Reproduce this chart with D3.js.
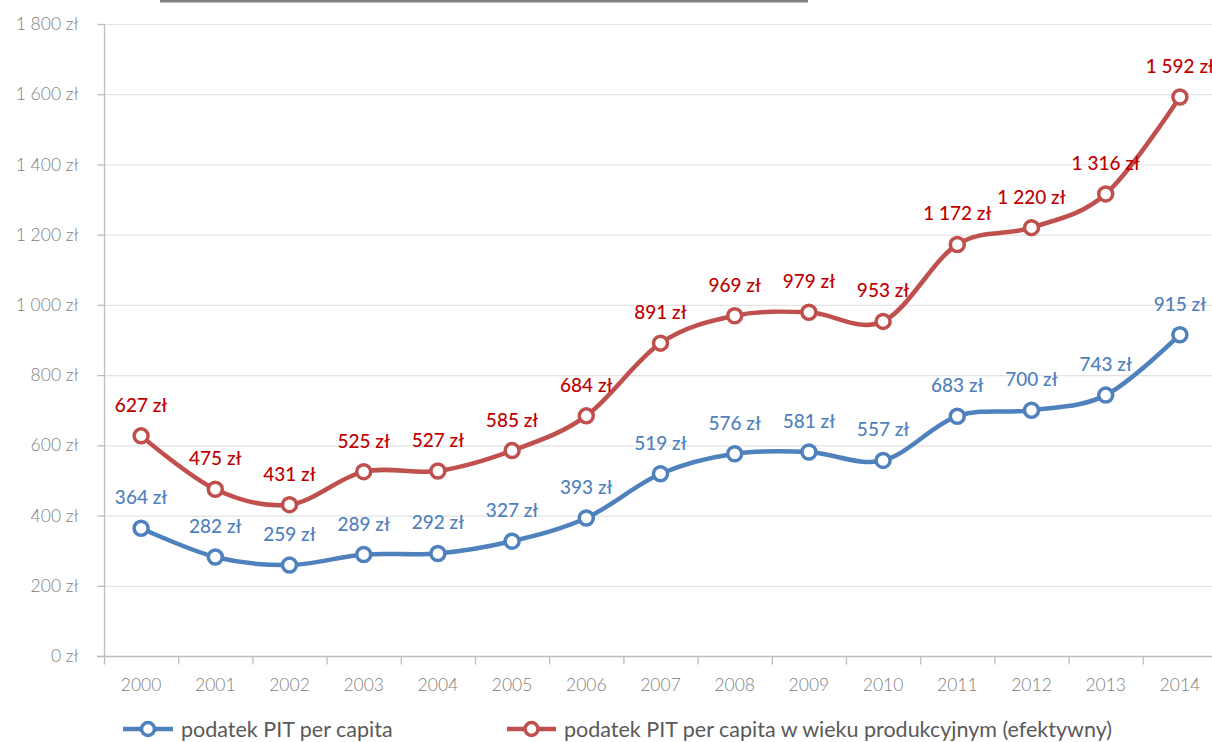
<!DOCTYPE html>
<html>
<head>
<meta charset="utf-8">
<script src="https://cdn.jsdelivr.net/npm/d3@7"></script>
<style>
  html, body { margin: 0; padding: 0; background: #fff; }
  svg { display: block; }
</style>
</head>
<body>
<svg id="chart" width="1212" height="742"></svg>
<script>
// Years on the category axis
const years = ["2000","2001","2002","2003","2004","2005","2006","2007","2008","2009","2010","2011","2012","2013","2014"];
// PIT per capita (zł)
const pitPerCapita = [364, 282, 259, 289, 292, 327, 393, 519, 576, 581, 557, 683, 700, 743, 915];
// PIT per capita of working-age population (effective, zł)
const pitWorkingAge = [627, 475, 431, 525, 527, 585, 684, 891, 969, 979, 953, 1172, 1220, 1316, 1592];
// Value axis ticks
const yTicks = [0, 200, 400, 600, 800, 1000, 1200, 1400, 1600, 1800];
const seriesNames = ["podatek PIT per capita", "podatek PIT per capita w wieku produkcyjnym (efektywny)"];

const FONT = "Lato, 'Open Sans', 'DejaVu Sans', sans-serif";
const svg = d3.select("#chart");

const plot = { left: 104, right: 1217, top: 24, bottom: 656 };

const x = d3.scaleBand().domain(years).range([plot.left, plot.right]).padding(0);
const y = d3.scaleLinear().domain([0, 1800]).range([plot.bottom, plot.top]);

const fmt = v => d3.format(",")(v).replace(/,/g, " ") + " zł";

// Clipped remnant of the heading rule above the plot
svg.append("rect").attr("x", 160).attr("y", 0).attr("width", 648).attr("height", 2.5).attr("fill", "#808080");

// Horizontal gridlines
svg.append("g").selectAll("line").data(yTicks.filter(d => d > 0)).join("line")
  .attr("x1", plot.left).attr("x2", 1212)
  .attr("y1", d => y(d) + 0.5).attr("y2", d => y(d) + 0.5)
  .attr("stroke", "#e3e3e3").attr("stroke-width", 1.2);

// Value axis
const yAxis = svg.append("g").attr("transform", `translate(${plot.left + 0.5},0)`)
  .call(d3.axisLeft(y).tickValues(yTicks).tickSize(7).tickPadding(19).tickFormat(fmt));
yAxis.select(".domain").attr("stroke", "#bdbdbd").attr("stroke-width", 1.3)
  .attr("d", `M0,${plot.top}V${plot.bottom}`);
yAxis.selectAll(".tick line").attr("stroke", "#bdbdbd").attr("stroke-width", 1.3);
yAxis.selectAll(".tick text").attr("fill", "#808080").attr("font-family", FONT)
  .attr("font-weight", 300).attr("font-size", 17.5);

// Category axis
const xAxis = svg.append("g").attr("transform", `translate(0,${plot.bottom + 0.5})`);
xAxis.append("line").attr("x1", plot.left - 7).attr("x2", 1212).attr("y1", 0).attr("y2", 0)
  .attr("stroke", "#bdbdbd").attr("stroke-width", 1.3);
xAxis.selectAll("line.tk").data(years).join("line").attr("class", "tk")
  .attr("x1", d => x(d) + 0.5).attr("x2", d => x(d) + 0.5).attr("y1", 0).attr("y2", 8)
  .attr("stroke", "#bdbdbd").attr("stroke-width", 1.3);
xAxis.selectAll("text").data(years).join("text")
  .attr("x", d => x(d) + x.bandwidth() / 2).attr("y", 34)
  .attr("text-anchor", "middle").attr("fill", "#808080")
  .attr("font-family", FONT).attr("font-weight", 300).attr("font-size", 17.5)
  .text(d => d);

const series = [
  { name: seriesNames[0], values: pitPerCapita, color: "#4f81bd", label: "#4f81bd" },
  { name: seriesNames[1], values: pitWorkingAge, color: "#c0504d", label: "#c00000" }
];

const line = d3.line()
  .x((d, i) => x(years[i]) + x.bandwidth() / 2)
  .y(d => y(d))
  .curve(d3.curveCardinal.tension(0));

series.forEach(s => {
  const g = svg.append("g");
  g.append("path").datum(s.values).attr("d", line)
    .attr("fill", "none").attr("stroke", s.color).attr("stroke-width", 4.5)
    .attr("stroke-linejoin", "round").attr("stroke-linecap", "round");
  g.selectAll("circle").data(s.values).join("circle")
    .attr("cx", (d, i) => x(years[i]) + x.bandwidth() / 2)
    .attr("cy", d => y(d))
    .attr("r", 7).attr("fill", "#fff").attr("stroke", s.color).attr("stroke-width", 3.5);
  g.selectAll("text").data(s.values).join("text")
    .attr("x", (d, i) => x(years[i]) + x.bandwidth() / 2)
    .attr("y", d => y(d) - 24)
    .attr("text-anchor", "middle").attr("fill", s.label)
    .attr("font-family", FONT).attr("font-weight", 500).attr("font-size", 19)
    .text(d => fmt(d));
});

// Legend
const legendItems = [
  { s: series[0], x0: 123, x1: 173, tx: 181 },
  { s: series[1], x0: 507, x1: 556, tx: 564 }
];
const lg = svg.append("g");
legendItems.forEach(it => {
  const cy = 729;
  lg.append("line").attr("x1", it.x0).attr("x2", it.x1).attr("y1", cy).attr("y2", cy)
    .attr("stroke", it.s.color).attr("stroke-width", 4.5);
  lg.append("circle").attr("cx", (it.x0 + it.x1) / 2).attr("cy", cy).attr("r", 6.5)
    .attr("fill", "#fff").attr("stroke", it.s.color).attr("stroke-width", 3.5);
  lg.append("text").attr("x", it.tx).attr("y", cy + 7.5)
    .attr("fill", "#595959").attr("font-family", FONT).attr("font-size", 21.5)
    .text(it.s.name);
});
</script>
</body>
</html>
